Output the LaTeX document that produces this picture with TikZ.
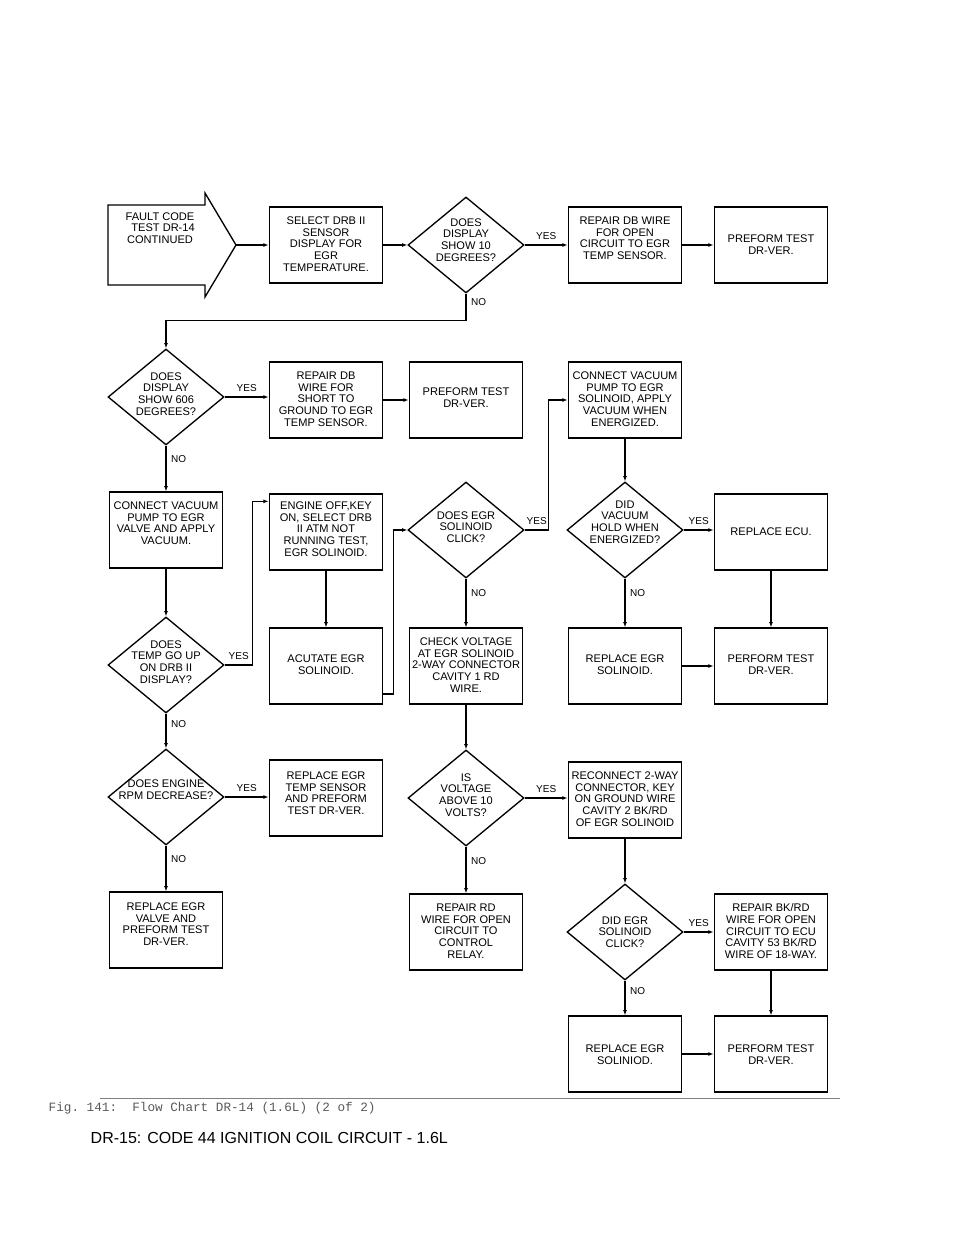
\documentclass[tikz,border=0pt]{standalone}
\usepackage{fontspec}
\setmainfont{Liberation Sans}
\setmonofont{Liberation Mono}
\usetikzlibrary{shapes.geometric, arrows.meta}
\begin{document}
\begin{tikzpicture}[x=0.75pt, y=-0.75pt]
    \tikzset{
        every node/.style={font=\fontsize{8.3}{8.8}\selectfont, align=center},
        box/.style={draw, line width=1pt, minimum width=85pt, minimum height=57pt, inner sep=0pt},
        dec/.style={draw, diamond, line width=1pt, minimum width=87pt, minimum height=72pt, inner sep=0pt},
        ans/.style={font=\fontsize{7.5}{8}\selectfont},
        flow/.style={line width=0.9pt, -{Latex[length=4pt, width=3pt]}}
        }
    \useasboundingbox (0,0) rectangle (960,1242);

    %start arrow
    \draw[line width=1pt] (108,205) -- (205,205) -- (205,193) -- (236,245) -- (205,297) -- (205,285) -- (108,285) -- cycle;
    \coordinate (start) at (236,245);
    \node (starttxt) at (160,228) {FAULT CODE\\\ \ TEST DR-14\\CONTINUED};

    %row 1
    \node (sel) [box] at (326,245) {};
    \node (seltxt) [anchor=north] at (326,212) {SELECT DRB II\\SENSOR\\DISPLAY FOR\\EGR\\TEMPERATURE.};
    \node (d1) [dec] at (466,245) {};
    \node (d1txt) at (466,240) {DOES\\DISPLAY\\SHOW 10\\DEGREES?};
    \node (rep1) [box] at (625,245) {};
    \node (rep1txt) [anchor=north] at (625,212) {REPAIR DB WIRE\\FOR OPEN\\CIRCUIT TO EGR\\TEMP SENSOR.};
    \node (pre1) [box] at (771,245) {};
    \node (pre1txt) [anchor=north] at (771,230) {PREFORM TEST\\DR-VER.};

    %row 2
    \node (d2) [dec] at (166,397) {};
    \node (d2txt) at (166,394) {DOES\\DISPLAY\\SHOW 606\\DEGREES?};
    \node (rep2) [box] at (326,400) {};
    \node (rep2txt) [anchor=north] at (326,367) {REPAIR DB\\WIRE FOR\\SHORT TO\\GROUND TO EGR\\TEMP SENSOR.};
    \node (pre2) [box] at (466,400) {};
    \node (pre2txt) [anchor=north] at (466,383) {PREFORM TEST\\DR-VER.};
    \node (vac2) [box] at (625,400) {};
    \node (vac2txt) [anchor=north] at (625,367) {CONNECT VACUUM\\PUMP TO EGR\\SOLINOID, APPLY\\VACUUM WHEN\\ENERGIZED.};

    %row 3
    \node (vac1) [box] at (166,530) {};
    \node (vac1txt) [anchor=north] at (166,497) {CONNECT VACUUM\\PUMP TO EGR\\VALVE AND APPLY\\VACUUM.};
    \node (eng) [box] at (326,532) {};
    \node (engtxt) [anchor=north] at (326,497) {ENGINE OFF,KEY\\ON, SELECT DRB\\II ATM NOT\\RUNNING TEST,\\EGR SOLINOID.};
    \node (d3) [dec] at (466,530) {};
    \node (d3txt) at (466,527) {DOES EGR\\SOLINOID\\CLICK?};
    \node (d4) [dec] at (625,530) {};
    \node (d4txt) at (625,522) {DID\\VACUUM\\HOLD WHEN\\ENERGIZED?};
    \node (ecu) [box] at (771,532) {};
    \node (ecutxt) at (771,532) {REPLACE ECU.};

    %row 4
    \node (d5) [dec] at (166,665) {};
    \node (d5txt) at (166,662) {DOES\\TEMP GO UP\\ON DRB II\\DISPLAY?};
    \node (act) [box] at (326,666) {};
    \node (acttxt) [anchor=north] at (326,650) {ACUTATE EGR\\SOLINOID.};
    \node (chk) [box] at (466,666) {};
    \node (chktxt) [anchor=north] at (466,633) {CHECK VOLTAGE\\AT EGR SOLINOID\\2-WAY CONNECTOR\\CAVITY 1 RD\\WIRE.};
    \node (sol1) [box] at (625,666) {};
    \node (sol1txt) [anchor=north] at (625,650) {REPLACE EGR\\SOLINOID.};
    \node (per1) [box] at (771,666) {};
    \node (per1txt) [anchor=north] at (771,650) {PERFORM TEST\\DR-VER.};

    %row 5
    \node (d6) [dec] at (166,797) {};
    \node (d6txt) at (166,790) {DOES ENGINE\\RPM DECREASE?};
    \node (tmp) [box] at (326,798) {};
    \node (tmptxt) [anchor=north] at (326,767) {REPLACE EGR\\TEMP SENSOR\\AND PREFORM\\TEST DR-VER.};
    \node (d7) [dec] at (466,798) {};
    \node (d7txt) at (466,795) {IS\\VOLTAGE\\ABOVE 10\\VOLTS?};
    \node (rec) [box] at (625,800) {};
    \node (rectxt) [anchor=north] at (625,767) {RECONNECT 2-WAY\\CONNECTOR, KEY\\ON GROUND WIRE\\CAVITY 2 BK/RD\\OF EGR SOLINOID};

    %row 6
    \node (valv) [box] at (166,930) {};
    \node (valvtxt) [anchor=north] at (166,898) {REPLACE EGR\\VALVE AND\\PREFORM TEST\\DR-VER.};
    \node (rd) [box] at (466,932) {};
    \node (rdtxt) [anchor=north] at (466,899) {REPAIR RD\\WIRE FOR OPEN\\CIRCUIT TO\\CONTROL\\RELAY.};
    \node (d8) [dec] at (625,932) {};
    \node (d8txt) at (625,932) {DID EGR\\SOLINOID\\CLICK?};
    \node (bk) [box] at (771,932) {};
    \node (bktxt) [anchor=north] at (771,899) {REPAIR BK/RD\\WIRE FOR OPEN\\CIRCUIT TO ECU\\CAVITY 53 BK/RD\\WIRE OF 18-WAY.};

    %row 7
    \node (sol2) [box] at (625,1054) {};
    \node (sol2txt) [anchor=north] at (625,1040) {REPLACE EGR\\SOLINIOD.};
    \node (per2) [box] at (771,1054) {};
    \node (per2txt) [anchor=north] at (771,1040) {PERFORM TEST\\DR-VER.};

    %connectors
    \draw[flow] (start) -- (sel.west);
    \draw[flow] (sel.east) -- (d1.west);
    \draw[flow] (d1.east) -- node[ans, above] {YES} (rep1.west);
    \draw[flow] (rep1.east) -- (pre1.west);
    \draw[flow] (d1.south) -- node[ans, right, pos=0.3] {NO} ++(0,27) -| (d2.north);

    \draw[flow] (d2.east) -- node[ans, above] {YES} (d2.east -| rep2.west);
    \draw[flow] (rep2.east) -- (pre2.west);
    \draw[flow] (d2.south) -- node[ans, right, pos=0.3] {NO} (vac1.north);
    \draw[flow] (vac1.south) -- (d5.north);
    \draw[flow] (d5.east) -- node[ans, above] {YES} ++(28,0) |- ([yshift=-6pt]eng.north west);
    \draw[flow] (eng.south) -- (act.north);
    \draw[flow] ([yshift=8pt]act.south east) -| ++(10,0) |- (d3.west);
    \draw[flow] (d3.east) -- node[ans, above] {YES} ++(24,0) |- (vac2.west);
    \draw[flow] (d3.south) -- node[ans, right, pos=0.3] {NO} (chk.north);
    \draw[flow] (vac2.south) -- (d4.north);
    \draw[flow] (d4.east) -- node[ans, above] {YES} (d4.east -| ecu.west);
    \draw[flow] (d4.south) -- node[ans, right, pos=0.3] {NO} (sol1.north);
    \draw[flow] (ecu.south) -- (per1.north);
    \draw[flow] (sol1.east) -- (per1.west);

    \draw[flow] (d5.south) -- node[ans, right, pos=0.3] {NO} (d6.north);
    \draw[flow] (d6.east) -- node[ans, above] {YES} (d6.east -| tmp.west);
    \draw[flow] (d6.south) -- node[ans, right, pos=0.3] {NO} (valv.north);
    \draw[flow] (chk.south) -- (d7.north);
    \draw[flow] (d7.east) -- node[ans, above] {YES} (d7.east -| rec.west);
    \draw[flow] (d7.south) -- node[ans, right, pos=0.3] {NO} (rd.north);
    \draw[flow] (rec.south) -- (d8.north);
    \draw[flow] (d8.east) -- node[ans, above] {YES} (bk.west);
    \draw[flow] (d8.south) -- node[ans, right, pos=0.3] {NO} (sol2.north);
    \draw[flow] (bk.south) -- (per2.north);
    \draw[flow] (sol2.east) -- (per2.west);

    %caption
    \coordinate (capl) at (100,1098);
    \coordinate (capr) at (840,1098);
    \draw[gray, line width=0.6pt] (capl) -- (capr);
    \node (cap) [anchor=west, text=gray!70!black, font=\ttfamily\fontsize{9.5}{10}\selectfont] at (44,1108) {Fig. 141:\ \ Flow Chart DR-14 (1.6L) (2 of 2)};
    \node (head) [anchor=west, font=\fontsize{12}{13}\selectfont] at (86,1138) {DR-15: CODE 44 IGNITION COIL CIRCUIT - 1.6L};
\end{tikzpicture}
\end{document}
